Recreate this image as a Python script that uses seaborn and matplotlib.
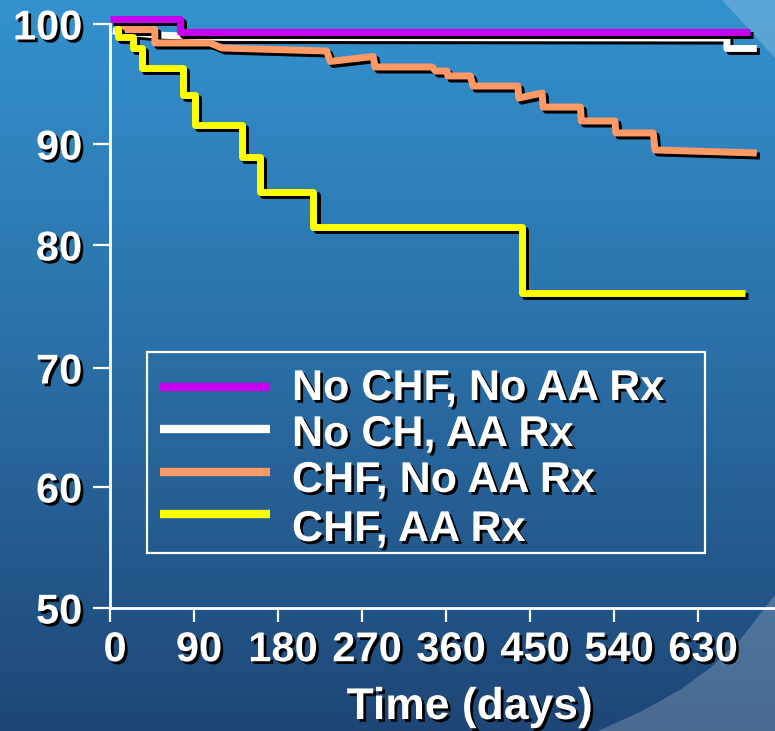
import numpy as np
import pandas as pd
import seaborn as sns
import matplotlib
matplotlib.use("Agg")
import matplotlib.pyplot as plt
import matplotlib.patheffects as pe
import matplotlib.transforms as mtransforms
from matplotlib.patches import Polygon, Rectangle
from matplotlib.lines import Line2D

# ---------------- data ----------------
series_names = ["No CHF, No AA Rx", "No CH, AA Rx", "CHF, No AA Rx", "CHF, AA Rx"]
series_colors = ["#C800F0", "#FFFFFF", "#FF9966", "#FFFF00"]

# No CHF, No AA Rx (step, post)
purple_days = [0, 75, 686]
purple_surv = [100.4, 99.33, 99.33]

# No CH, AA Rx (vertices)
white_days = [3, 50, 120, 661, 661, 693]
white_surv = [99.42, 99.08, 98.88, 98.83, 97.96, 97.96]

# CHF, No AA Rx (vertices)
orange_days = [5, 48, 48, 107, 120, 232, 236, 282, 284, 345, 349, 361, 362, 386,
               389, 437, 438, 463, 464, 504, 505, 541, 542, 582, 584, 693]
orange_surv = [99.54, 99.54, 98.42, 98.42, 98.0, 97.75, 96.88, 97.29, 96.42, 96.42,
               96.08, 96.08, 95.67, 95.67, 94.83, 94.83, 93.83, 94.25, 93.08, 93.08,
               91.92, 91.92, 90.92, 90.92, 89.41, 89.11]

# CHF, AA Rx (step, post)
yellow_days = [5, 9, 25, 34, 78, 91, 141, 161, 218, 441, 680]
yellow_surv = [99.58, 98.92, 98.0, 96.33, 94.08, 91.58, 88.71, 85.25, 81.78, 76.1, 76.1]

x_ticks = [0, 90, 180, 270, 360, 450, 540, 630]
y_ticks = [50, 60, 70, 80, 90, 100]
x_label = "Time (days)"

# the original's y axis is not evenly spaced: tick value -> height (px) above the x axis
scale_vals = [40, 50, 60, 70, 80, 90, 100, 110]
scale_px = [-121, 0, 121, 240, 363, 464, 584, 704]


def step_vertices(xs, ys):
    vx, vy = [xs[0]], [ys[0]]
    for i in range(1, len(xs)):
        vx += [xs[i], xs[i]]
        vy += [ys[i - 1], ys[i]]
    return vx, vy


px_, py_ = step_vertices(purple_days, purple_surv)
yx_, yy_ = step_vertices(yellow_days, yellow_surv)
frames = []
for name, xs, ys in zip(series_names,
                        [px_, white_days, orange_days, yx_],
                        [py_, white_surv, orange_surv, yy_]):
    frames.append(pd.DataFrame({"days": xs, "surv": ys, "group": name}))
df = pd.concat(frames, ignore_index=True)

# ---------------- style ----------------
W, H = 775, 731
sns.set_style("white")
plt.rcParams["font.family"] = ["Liberation Sans", "DejaVu Sans"]
plt.rcParams["font.weight"] = "bold"
plt.rcParams["xtick.bottom"] = True
plt.rcParams["ytick.left"] = True

fig = plt.figure(figsize=(W / 100, H / 100), dpi=100)


def fx(p):
    return p / W


def fy(p):
    return 1 - p / H


# background gradient
bg = fig.add_axes([0, 0, 1, 1], zorder=-10)
stops_y = np.array([0.0, 0.5, 1.0])
stops_c = np.array([[51, 146, 206], [42, 110, 166], [30, 70, 118]]) / 255.0
yy = np.linspace(0, 1, H)
grad = np.stack([np.interp(yy, stops_y, stops_c[:, k]) for k in range(3)], axis=-1)
grad = np.repeat(grad[:, None, :], 2, axis=1)
bg.imshow(grad, aspect="auto", extent=[0, W, H, 0], interpolation="bilinear")
bg.add_patch(Polygon([(598, 731), (640, 712), (680, 690), (710, 668), (740, 640),
                      (775, 595), (775, 731)], closed=True, fc="white", alpha=0.2, ec="none"))
bg.add_patch(Polygon([(722, 0), (775, 0), (775, 58), (748, 28)], closed=True,
                     fc="white", alpha=0.2, ec="none"))
bg.set_xlim(0, W)
bg.set_ylim(H, 0)
bg.axis("off")

# main axes
ax = fig.add_axes([fx(110), fy(608), (W - 110) / W, (608 - 24) / H])
ax.patch.set_alpha(0)
ax.set_yscale("function", functions=(
    lambda v: np.interp(v, scale_vals, scale_px),
    lambda u: np.interp(u, scale_px, scale_vals)))

zorders = [3, 2, 4, 5]
for name, col, z in zip(series_names, series_colors, zorders):
    sub = df[df["group"] == name]
    sns.lineplot(data=sub, x="days", y="surv", ax=ax, color=col, lw=5,
                 sort=False, estimator=None, zorder=z, clip_on=False,
                 solid_joinstyle="round", solid_capstyle="butt")

for ln in ax.lines:
    ln.set_path_effects([pe.SimpleLineShadow(offset=(2.2, -2.2), shadow_color="black",
                                             alpha=1.0), pe.Normal()])

ax.set_xlim(0, 712.5)
ax.set_ylim(50, 100)
ax.set_xticks(x_ticks)
ax.set_xticklabels([str(t) for t in x_ticks])
ax.set_yticks(y_ticks)
ax.set_yticklabels([str(t) for t in y_ticks])
ax.minorticks_off()
ax.set_ylabel("")
for s in ["top", "right"]:
    ax.spines[s].set_visible(False)
for s in ["left", "bottom"]:
    ax.spines[s].set_color("white")
    ax.spines[s].set_linewidth(2)
ax.tick_params(axis="y", left=True, colors="white", length=12, width=1.6, pad=8,
               labelsize=30, direction="out")
ax.tick_params(axis="x", bottom=True, colors="white", length=10, width=1.6, pad=6,
               labelsize=30, direction="out")
ax.grid(False)

shadow = [pe.withSimplePatchShadow(offset=(2, -2), shadow_rgbFace="black", alpha=1.0)]
offset = mtransforms.ScaledTranslation(5 / 100, 0, fig.dpi_scale_trans)
for lab in ax.get_xticklabels():
    lab.set_path_effects(shadow)
    lab.set_transform(lab.get_transform() + offset)
    lab.set_fontweight("bold")
for lab in ax.get_yticklabels():
    lab.set_path_effects(shadow)
    lab.set_fontweight("bold")

ax.set_xlabel(x_label, fontsize=32, color="white", fontweight="bold",
              va="baseline", ha="center")
ax.xaxis.set_label_coords((470 - 110) / (W - 110), -(719 - 608) / (608 - 24))
ax.xaxis.label.set_path_effects(shadow)

# legend box
fig.add_artist(Rectangle((fx(147), fy(553)), (705 - 147) / W, (553 - 352) / H,
                         transform=fig.transFigure, fill=False, ec="white", lw=1.6))
line_y = [387, 429, 472, 514]
text_base = [400, 446, 492, 541]
for name, col, ly, tb in zip(series_names, series_colors, line_y, text_base):
    fig.add_artist(Line2D([fx(160), fx(270)], [fy(ly), fy(ly)], color=col, lw=6,
                          transform=fig.transFigure, solid_capstyle="butt"))
    t = fig.text(fx(292), fy(tb), name, fontsize=31, color="white", fontweight="bold",
                 va="baseline", ha="left")
    t.set_path_effects(shadow)

fig.savefig("out.png", dpi=100)
